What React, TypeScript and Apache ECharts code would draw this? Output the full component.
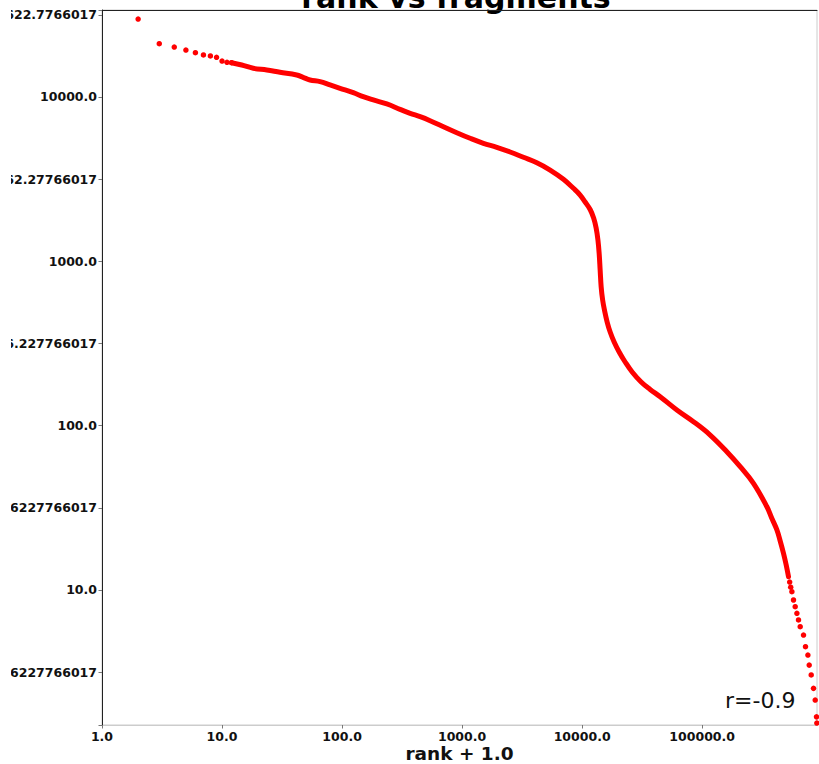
import React, { useEffect, useRef } from "react";
import * as echarts from "echarts";

// Tick labels (as printed on the reference)
const X_TICK_LABELS = ["1.0", "10.0", "100.0", "1000.0", "10000.0", "100000.0"];
const Y_TICK_LABELS = [
  "3.16227766017",
  "10.0",
  "31.6227766017",
  "100.0",
  "316.227766017",
  "1000.0",
  "3162.27766017",
  "10000.0",
  "31622.7766017",
];

// Sparse leading points (rank + 1, fragments)
const HEAD_RANK = [1, 2, 3, 4, 5, 6, 7, 8, 9, 10, 11, 12];
const HEAD_FRAGMENTS = [36000, 29800, 21100, 20140, 19310, 18600, 18010, 17760, 17440, 16550, 16250, 16170];

// Dense middle part of the distribution
const BODY_RANK = [
  12, 14.6, 18.2, 23.6, 30.4, 41.9, 47.3, 54.1, 65.6, 79.4, 96.2, 124, 150, 182, 236, 304, 369, 447, 541,
  699, 903, 1166, 1505, 1946, 2512, 3242, 4194, 5412, 6985, 8462, 9623, 10590, 11660, 12470, 13080, 13540,
  13860, 14130, 14400, 14820, 15400, 16160, 17120, 18480, 20340, 22820, 26100, 31020, 36870, 44670, 61540,
  84630, 116600, 160600, 207400, 267600, 346100, 379500, 419300, 446700, 476000, 501200, 524000,
];
const BODY_FRAGMENTS = [
  16170, 15650, 14950, 14590, 14130, 13610, 13170, 12690, 12390, 11830, 11290, 10620, 10040, 9590, 9070,
  8414, 7955, 7586, 7172, 6594, 6062, 5605, 5225, 4941, 4626, 4295, 3981, 3594, 3156, 2782, 2532, 2296,
  2067, 1834, 1595, 1348, 1118, 885, 701, 581.5, 498.4, 427.2, 371.4, 322.8, 280.6, 244, 212.1, 184.3, 166,
  150, 124.5, 105.7, 87.7, 69.4, 56.3, 44.6, 32.1, 27.4, 23.2, 19.86, 16.7, 14.19, 12.04,
];

// Sparse trailing points
const TAIL_RANK = [
  535800, 546400, 559000, 576600, 595700, 615400, 634600, 655700, 698800, 725800, 760000, 779300, 809700,
  846300, 874400, 896000, 902000,
];
const TAIL_FRAGMENTS = [
  11.18, 10.4, 9.76, 8.69, 7.91, 7.21, 6.57, 5.98, 5.32, 4.52, 4.02, 3.49, 3.04, 2.52, 2.14, 1.69, 1.55,
];

const CORRELATION_TEXT = "r=-0.9";
const TITLE = "rank vs fragments";
const X_NAME = "rank + 1.0";

const X_MIN = 1;
const X_MAX = 905000;
const Y_MIN = 1.508;
const Y_MAX = 33830;

const RED = "#ff0000";
const FONT = "DejaVu Sans";

const zip = (xs: number[], ys: number[]) => xs.map((x, i) => [x, ys[i]]);

const labelMatcher = (labels: string[]) => {
  const values = labels.map(Number);
  return (v: number) => {
    const i = values.findIndex((t) => Math.abs(Math.log10(t) - Math.log10(v)) < 1e-6);
    return i >= 0 ? labels[i] : "";
  };
};

export default function App() {
  const ref = useRef<HTMLDivElement>(null);

  useEffect(() => {
    if (!ref.current) return;
    const chart = echarts.init(ref.current, null, { renderer: "svg" });
    chart.setOption({
      animation: false,
      grid: {
        left: 91,
        right: 2,
        top: 10,
        bottom: 39,
        show: true,
        borderColor: "#cccccc",
        borderWidth: 1,
        containLabel: false,
        outerBoundsMode: "none",
      },
      xAxis: [
        {
          type: "log",
          logBase: 10,
          min: X_MIN,
          max: X_MAX,
          position: "bottom",
          name: X_NAME,
          nameLocation: "middle",
          nameGap: 19,
          nameMoveOverlap: false,
          nameTextStyle: { fontFamily: FONT, fontWeight: "bold", fontSize: 18.5, color: "#111" },
          axisLine: { show: true, lineStyle: { color: "#cccccc", width: 1 } },
          axisTick: { show: true, length: 3.5, lineStyle: { color: "#777" } },
          minorTick: { show: false },
          splitLine: { show: false },
          axisLabel: {
            show: true,
            margin: 5,
            fontFamily: FONT,
            fontWeight: "bold",
            fontSize: 12.5,
            color: "#111",
            formatter: labelMatcher(X_TICK_LABELS),
            showMinLabel: true,
            showMaxLabel: false,
          },
        },
        {
          type: "log",
          logBase: 10,
          min: X_MIN,
          max: X_MAX,
          position: "top",
          axisLine: { show: true, lineStyle: { color: "#222", width: 1 } },
          axisTick: { show: false },
          axisLabel: { show: false },
          splitLine: { show: false },
        },
      ],
      yAxis: {
        type: "log",
        logBase: Math.sqrt(10),
        min: Y_MIN,
        max: Y_MAX,
        axisLine: { show: true, lineStyle: { color: "#222", width: 1 } },
        axisTick: { show: true, length: 3.5, lineStyle: { color: "#777" } },
        splitLine: { show: false },
        axisLabel: {
          show: true,
          margin: 5,
          fontFamily: FONT,
          fontWeight: "bold",
          fontSize: 12.5,
          color: "#111",
          formatter: labelMatcher(Y_TICK_LABELS),
        },
      },
      graphic: [
        {
          type: "text",
          x: 445,
          y: -3,
          silent: true,
          style: {
            text: TITLE,
            font: `bold 30px "${FONT}"`,
            fill: "#000",
            textAlign: "center",
            textVerticalAlign: "middle",
          },
        },
        {
          type: "text",
          x: 714,
          y: 700,
          silent: true,
          style: {
            text: CORRELATION_TEXT,
            font: `22px "${FONT}"`,
            fill: "#111",
            textAlign: "left",
            textVerticalAlign: "middle",
          },
        },
      ],
      series: [
        {
          type: "line",
          xAxisIndex: 0,
          data: zip(BODY_RANK, BODY_FRAGMENTS),
          showSymbol: false,
          smooth: 0.4,
          lineStyle: { color: RED, width: 5, cap: "round", join: "round", opacity: 1 },
          itemStyle: { color: RED },
          z: 3,
        },
        {
          type: "scatter",
          xAxisIndex: 0,
          data: [...zip(HEAD_RANK, HEAD_FRAGMENTS), ...zip(TAIL_RANK, TAIL_FRAGMENTS)],
          symbol: "circle",
          symbolSize: 5.5,
          itemStyle: { color: RED, opacity: 1 },
          z: 4,
        },
      ],
    });
    return () => chart.dispose();
  }, []);

  return (
    <div
      ref={ref}
      style={{ position: "absolute", left: 11, top: 0, width: 808, height: 764 }}
    />
  );
}
